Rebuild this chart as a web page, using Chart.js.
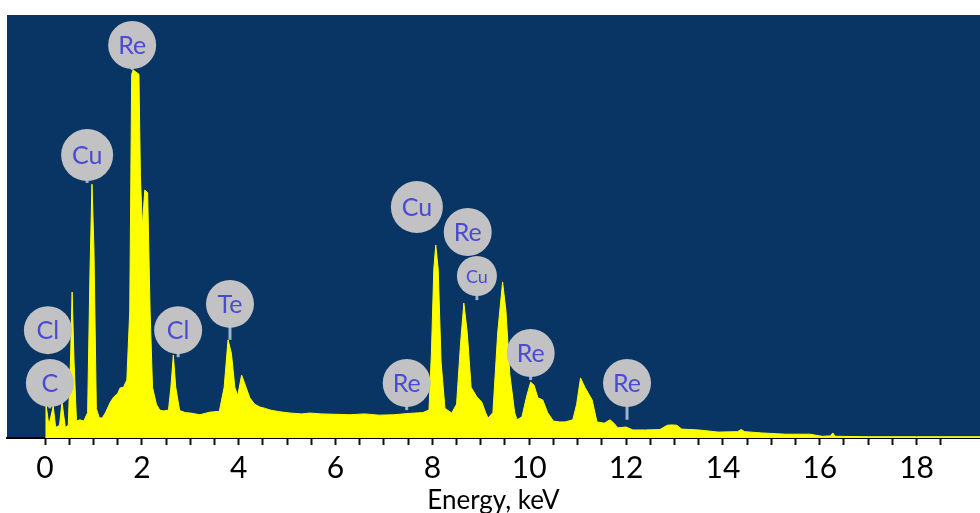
<!DOCTYPE html>
<html>
<head>
<meta charset="utf-8">
<script src="https://cdn.jsdelivr.net/npm/chart.js@4.4.1/dist/chart.umd.min.js"></script>
<style>
  html, body { margin: 0; padding: 0; background: #fff; }
  #wrap { width: 980px; height: 513px; }
</style>
</head>
<body>
<div id="wrap"><canvas id="edsChart"></canvas></div>
<script>
// spectrum (energy in keV, counts in % of full height)
const energy = [
  0.00, 0.02, 0.08, 0.17, 0.22, 0.30, 0.35, 0.42, 0.48, 0.53, 0.56, 0.60, 0.65, 0.72, 0.80,
  0.88, 0.93, 0.97, 1.01, 1.06, 1.12, 1.18, 1.25, 1.35, 1.42, 1.50, 1.55, 1.62, 1.69, 1.75,
  1.79, 1.82, 1.94, 1.97, 2.01, 2.06, 2.12, 2.17, 2.22, 2.30, 2.37, 2.45, 2.55, 2.60, 2.65,
  2.70, 2.78, 2.90, 3.00, 3.20, 3.40, 3.60, 3.70, 3.78, 3.85, 3.92, 3.98, 4.06, 4.12, 4.23,
  4.33, 4.44, 4.55, 4.65, 4.85, 5.06, 5.30, 5.47, 5.70, 6.00, 6.30, 6.60, 6.90, 7.20, 7.50,
  7.80, 7.93, 7.98, 8.03, 8.07, 8.12, 8.18, 8.26, 8.40, 8.50, 8.58, 8.65, 8.72, 8.80, 8.92,
  9.02, 9.10, 9.15, 9.25, 9.35, 9.45, 9.52, 9.60, 9.70, 9.75, 9.85, 9.95, 10.03, 10.10, 10.18,
  10.28, 10.38, 10.50, 10.63, 10.74, 10.90, 10.98, 11.06, 11.15, 11.30, 11.40, 11.55, 11.67, 11.75, 11.83,
  12.00, 12.14, 12.40, 12.70, 12.85, 12.95, 13.05, 13.15, 13.50, 13.90, 14.30, 14.38, 14.45, 14.80, 15.30,
  15.80, 16.05, 16.22, 16.27, 16.32, 17.00, 18.00, 19.40
];
const counts = [
  0, 8, 3, 7.5, 2.5, 3, 8.5, 2.5, 3, 20, 34.5, 18, 4, 4.3, 4,
  6, 40, 60, 45, 7, 4.8, 4.7, 6, 8.5, 9.7, 10.5, 11.8, 12, 13.7, 30,
  86, 87, 86, 62, 50, 58.6, 58, 30, 12, 8, 6.6, 6.4, 6.6, 12, 19.6,
  12, 6.5, 6, 5.9, 5.5, 6.1, 6.3, 12, 23.2, 20, 12, 10, 14.9, 13, 9.5,
  8, 7.3, 7, 6.6, 6.2, 5.9, 5.7, 5.9, 5.7, 5.6, 5.5, 5.7, 5.4, 5.5, 5.8,
  6, 6.6, 20, 40, 45.6, 40, 18, 7, 5.9, 8, 22, 31.9, 25, 12, 9.7,
  8.5, 6, 4.7, 6, 25, 36.9, 30, 15, 6, 4.3, 5, 10, 13.2, 12.5, 9.5,
  9, 6, 4, 3.8, 3.8, 4.3, 8, 14.2, 12, 9, 3.8, 3.5, 4.3, 3.5, 2.4,
  2.6, 1.9, 1.9, 2.0, 3.0, 3.1, 3.0, 2.1, 1.9, 1.4, 1.5, 2.0, 1.5, 1.2, 0.9,
  0.9, 0.4, 0.5, 1.2, 0.4, 0.3, 0.3, 0.3
];
const tickLabels = [0, 2, 4, 6, 8, 10, 12, 14, 16, 18];

// element markers: name, circle centre (keV, %), where the stem ends (%)
const peakNames = ["Re", "Cu", "Cl", "C", "Cl", "Te", "Cu", "Re", "Cu", "Re", "Re", "Re"];
const peakE = [1.80, 0.87, 0.06, 0.10, 2.75, 3.82, 7.68, 8.73, 8.92, 7.47, 10.03, 12.02];
const peakV = [92.9, 66.9, 25.5, 13.0, 25.5, 31.7, 54.6, 48.7, 38.3, 13.0, 20.1, 13.0];
const stemV = [87, 60.3, 22, 7, 19.1, 23.2, null, null, 32.6, 6.6, 13.7, 4.3];

const bgPlugin = {
  id: "bg",
  beforeDraw(chart) {
    const { ctx, chartArea: a } = chart;
    ctx.save();
    ctx.fillStyle = "#083563";
    ctx.fillRect(a.left, a.top, a.right - a.left, a.bottom - a.top);
    ctx.restore();
  }
};

const markerPlugin = {
  id: "markers",
  afterDatasetsDraw(chart) {
    const { ctx } = chart;
    const x = chart.scales.x, y = chart.scales.y;
    ctx.save();
    peakNames.forEach((name, i) => {
      const small = i === 8;
      const r = small ? 20 : (name === "Cu" ? 26 : 24);
      const cx = x.getPixelForValue(peakE[i]);
      const cy = y.getPixelForValue(peakV[i]);
      if (stemV[i] !== null) {
        ctx.strokeStyle = "#9fb4cc";
        ctx.lineWidth = 3;
        ctx.beginPath();
        ctx.moveTo(cx, cy + r - 2);
        ctx.lineTo(cx, y.getPixelForValue(stemV[i]));
        ctx.stroke();
      }
      ctx.fillStyle = "#c2c2c4";
      ctx.beginPath();
      ctx.arc(cx, cy, r, 0, Math.PI * 2);
      ctx.fill();
      ctx.fillStyle = "#4a4ad2";
      ctx.font = (small ? "18px" : "25px") + " Lato, 'Open Sans', sans-serif";
      ctx.textAlign = "center";
      ctx.textBaseline = "middle";
      ctx.fillText(name, cx, cy + 1);
    });
    ctx.restore();
  }
};

const ctx = document.getElementById("edsChart").getContext("2d");
const edsChart = new Chart(ctx, {
  type: "line",
  data: {
    datasets: [
      {
        label: "EDS spectrum",
        data: energy.map((e, i) => ({ x: e, y: counts[i] })),
        borderColor: "#ffff00",
        backgroundColor: "#ffff00",
        borderWidth: 1,
        fill: "origin",
        pointRadius: 0,
        tension: 0
      }
    ]
  },
  options: {
    responsive: true,
    maintainAspectRatio: false,
    animation: false,
    layout: { padding: { left: 7, top: 15, right: 0, bottom: 0 } },
    scales: {
      x: {
        type: "linear",
        min: -0.785,
        max: 19.31,
        afterBuildTicks(scale) {
          scale.ticks = scale.ticks.filter(t => Math.abs(t.value * 2 - Math.round(t.value * 2)) < 1e-6);
        },
        afterFit(scale) {
          scale.height = 75;
        },
        border: { display: true, color: "#000", width: 2 },
        grid: {
          drawOnChartArea: false,
          tickLength: 7,
          tickColor: "#111",
          tickWidth: 2
        },
        ticks: {
          stepSize: 0.5,
          autoSkip: false,
          maxRotation: 0,
          padding: 5,
          color: "#000",
          font: { family: "Lato, 'Open Sans', sans-serif", size: 30 },
          callback: v => (tickLabels.includes(v) ? String(v) : "")
        },
        title: {
          display: true,
          text: "Energy, keV",
          color: "#000",
          padding: { top: 0, bottom: 0 },
          font: { family: "Lato, 'Open Sans', sans-serif", size: 26, lineHeight: 0.95 }
        }
      },
      y: {
        display: false,
        min: 0,
        max: 100
      }
    },
    plugins: {
      legend: { display: false },
      title: { display: false },
      tooltip: { enabled: false }
    }
  },
  plugins: [bgPlugin, markerPlugin]
});
</script>
</body>
</html>
